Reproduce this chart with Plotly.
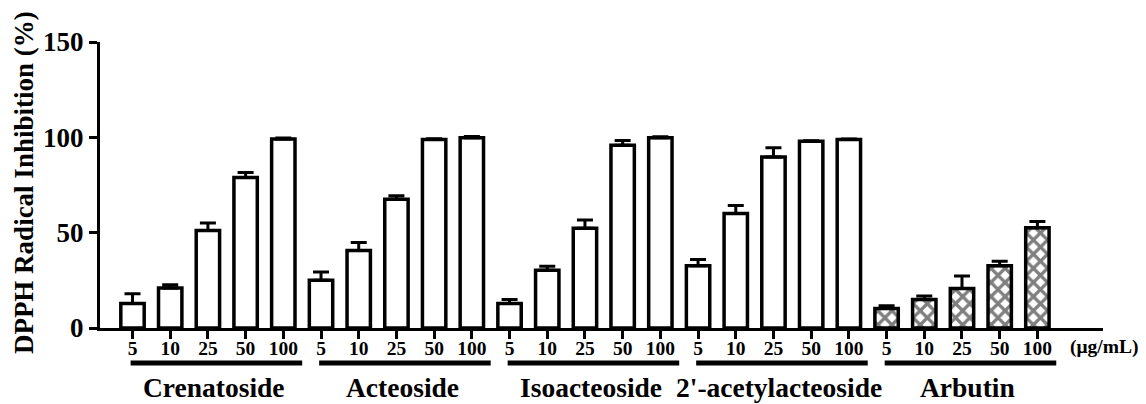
import plotly.graph_objects as go

compounds = ["Crenatoside", "Acteoside", "Isoacteoside", "2'-acetylacteoside", "Arbutin"]
concentrations = ["5", "10", "25", "50", "100"]

crenatoside = [12.8, 21.0, 51.1, 78.9, 99.1]
crenatoside_err = [5.2, 1.7, 4.0, 2.6, 0.5]
acteoside = [25.0, 40.7, 67.5, 98.8, 99.8]
acteoside_err = [4.4, 4.2, 1.9, 0.4, 0.6]
isoacteoside = [12.8, 30.3, 52.3, 95.8, 99.8]
isoacteoside_err = [2.1, 2.1, 4.3, 2.5, 0.5]
acetylacteoside = [32.7, 60.0, 89.7, 97.9, 98.8]
acetylacteoside_err = [3.2, 4.3, 4.9, 0.3, 0.3]
arbutin = [10.2, 14.9, 20.7, 32.7, 52.6]
arbutin_err = [1.5, 1.9, 6.6, 2.3, 3.2]

y_ticks = [0, 50, 100, 150]

FONT = "Liberation Serif"
series = [crenatoside, acteoside, isoacteoside, acetylacteoside, arbutin]
errors = [crenatoside_err, acteoside_err, isoacteoside_err, acetylacteoside_err, arbutin_err]
n = len(concentrations)

fig = go.Figure()
for g, (vals, errs) in enumerate(zip(series, errors)):
    xs = [g * n + i for i in range(n)]
    hatched = compounds[g] == "Arbutin"
    fig.add_trace(go.Bar(
        x=xs, y=vals, width=0.62,
        marker=dict(
            color="white",
            line=dict(color="black", width=3.5),
            pattern=dict(shape="x" if hatched else "", fgcolor="black", bgcolor="white",
                         size=10, solidity=0.55),
        ),
        error_y=dict(type="data", symmetric=False, array=errs, arrayminus=[0] * n,
                     color="black", thickness=3, width=8),
        showlegend=False,
    ))

tickvals = list(range(len(compounds) * n))
ticktext = concentrations * len(compounds)

shapes = []
annotations = []
for g, name in enumerate(compounds):
    x0 = g * n - 0.05
    x1 = g * n + (n - 1) + 0.5
    shapes.append(dict(type="line", xref="x", yref="paper", x0=x0, x1=x1,
                       y0=-0.1224, y1=-0.1224, line=dict(color="black", width=5)))
    annotations.append(dict(text=name, xref="x", yref="paper", x=g * n + (n - 1) / 2 + 0.15,
                            y=-0.207, xanchor="center", yanchor="middle", showarrow=False,
                            font=dict(family=FONT, size=27.5, color="black", weight="bold")))

annotations.append(dict(text="(μg/mL)", xref="x", yref="paper", x=24.82, y=-0.068,
                        xanchor="left", yanchor="middle", showarrow=False,
                        font=dict(family=FONT, size=19.5, color="black", weight="bold")))
annotations.append(dict(text="DPPH Radical Inhibition (%)", xref="paper", yref="paper",
                        x=-0.0758, y=0.51, xanchor="center", yanchor="middle", textangle=-90,
                        showarrow=False,
                        font=dict(family=FONT, size=27, color="black", weight="bold")))

# page body has an 8px margin; size the figure so it fits the 1146x404 window
fig.update_layout(
    width=1138, height=396,
    margin=dict(l=92, r=43, t=34, b=76),
    paper_bgcolor="white", plot_bgcolor="white",
    shapes=shapes, annotations=annotations,
    xaxis=dict(range=[-0.862, 25.74], tickmode="array", tickvals=tickvals, ticktext=ticktext,
               showline=True, linecolor="black", linewidth=3, ticks="outside", ticklen=8,
               tickwidth=3, tickcolor="black", showgrid=False, zeroline=False,
               ticklabelstandoff=-7,
               tickfont=dict(family=FONT, size=19.5, color="black", weight="bold")),
    yaxis=dict(range=[0, 150], tickvals=y_ticks, showline=True, linecolor="black", linewidth=3,
               ticks="outside", ticklen=8, tickwidth=3, tickcolor="black", showgrid=False,
               zeroline=False,
               tickfont=dict(family=FONT, size=27, color="black", weight="bold")),
)

fig.write_html("out.html")
